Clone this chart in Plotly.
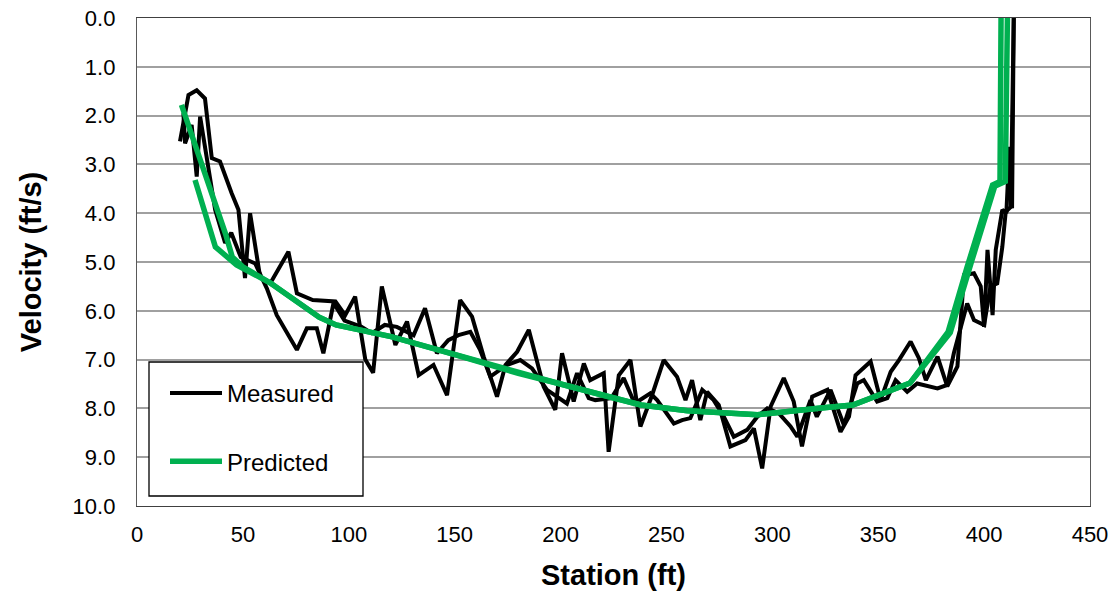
import plotly.graph_objects as go

# Measured velocity, pass 1 (station ft, velocity ft/s)
m1_station = [20.3, 24.3, 28.2, 32.1, 35.3, 39.2, 44.7, 47.9, 51.0, 53.4, 58.1, 62.9, 71.5, 75.5, 83.0,
              89.6, 93.7, 98.3, 103.0, 107.8, 111.5, 115.6, 122.0, 127.5, 133.0, 140.0, 146.4, 152.6,
              158.2, 163.7, 170.0, 174.0, 179.5, 185.0, 192.0, 197.5, 200.7, 206.2, 211.0, 214.0,
              220.4, 222.7, 227.5, 233.0, 237.7, 243.2, 248.7, 255.0, 259.0, 262.1, 266.0, 269.2,
              274.7, 280.2, 287.3, 291.3, 295.2, 299.2, 305.4, 310.1, 314.0, 318.8, 326.0, 332.2,
              336.2, 339.3, 346.4, 351.1, 355.9, 359.8, 365.3, 369.2, 372.5, 378.0, 382.6, 387.4,
              390.5, 395.2, 398.4, 400.0, 401.6, 404.0, 405.5, 408.6, 410.5, 412.0, 413.2, 414.0]
m1_velocity = [2.53, 1.58, 1.48, 1.65, 2.87, 2.94, 3.59, 3.93, 5.33, 4.00, 5.30, 5.44, 4.79, 5.64, 5.78,
               5.81, 5.81, 6.09, 5.71, 7.00, 7.27, 5.50, 6.70, 6.22, 7.32, 7.11, 7.73, 5.78,
               6.12, 6.94, 7.76, 7.11, 6.84, 6.39, 7.55, 8.03, 6.87, 7.86, 7.08, 7.42,
               7.28, 8.89, 7.32, 7.01, 8.37, 7.73, 7.01, 7.35, 7.83, 7.42, 8.24, 7.66,
               7.93, 8.78, 8.65, 8.41, 9.23, 7.96, 7.38, 7.86, 8.78, 7.76, 7.62, 8.48,
               8.17, 7.32, 7.04, 7.83, 7.25, 7.01, 6.63, 6.97, 7.42, 6.94, 7.55, 7.14,
               5.27, 5.23, 5.50, 6.33, 4.75, 6.09, 4.75, 3.93, 4.00, 2.64, 3.90, 0.00]

# Measured velocity, pass 2
m2_station = [21.9, 22.7, 25.8, 28.2, 29.8, 33.7, 36.9, 41.6, 44.5, 49.0, 55.8, 61.3, 66.0, 75.5, 80.2,
              84.9, 88.0, 92.8, 98.0, 106.0, 110.9, 117.0, 122.7, 130.6, 136.0, 141.6, 147.0, 151.8,
              157.4, 162.0, 166.8, 174.7, 181.0, 186.5, 193.6, 203.0, 207.8, 213.3, 216.4, 224.0,
              229.8, 235.0, 242.4, 245.6, 253.5, 257.4, 261.3, 266.9, 272.3, 277.1, 281.8, 288.1,
              292.9, 297.6, 303.0, 308.6, 311.8, 318.0, 321.0, 327.5, 333.8, 340.1, 343.2, 349.5,
              354.3, 358.2, 363.7, 368.4, 373.2, 378.0, 382.6, 385.7, 392.0, 395.2, 400.0, 403.0,
              406.2, 408.6, 410.2, 412.6, 414.0]
m2_velocity = [1.95, 2.57, 2.19, 3.25, 2.02, 3.05, 3.93, 4.61, 4.40, 4.90, 5.03, 5.54, 6.09, 6.80, 6.36,
               6.36, 6.87, 5.84, 6.20, 6.33, 6.46, 6.29, 6.33, 6.50, 5.95, 6.87, 6.60, 6.50,
               6.43, 6.80, 7.35, 7.11, 7.01, 7.18, 7.62, 7.90, 7.28, 7.79, 7.83, 7.79,
               7.38, 7.90, 7.69, 7.83, 8.31, 8.24, 8.20, 7.62, 7.83, 8.17, 8.58, 8.44,
               8.17, 8.00, 8.10, 8.37, 8.58, 7.83, 8.17, 7.62, 8.34, 7.49, 7.42, 7.86,
               7.79, 7.42, 7.66, 7.49, 7.55, 7.59, 7.52, 6.87, 5.85, 6.19, 6.29, 5.50,
               5.44, 4.69, 3.97, 3.87, 0.00]

# Predicted velocity, pass 1
p1_station = [21.0, 30.0, 38.0, 42.0, 45.0, 50.0, 63.0, 86.0, 94.0, 120.0, 150.0, 180.0, 200.0, 220.0,
              238.0, 260.0, 293.0, 323.0, 338.0, 365.0, 383.0, 392.0, 404.0, 407.5, 408.0]
p1_velocity = [1.78, 2.90, 3.90, 4.45, 4.90, 5.10, 5.43, 6.13, 6.29, 6.53, 6.90, 7.28, 7.50, 7.73,
               7.93, 8.05, 8.13, 7.99, 7.93, 7.48, 6.43, 5.10, 3.42, 3.35, 0.00]

# Predicted velocity, pass 2
p2_station = [27.4, 32.0, 37.0, 47.0, 63.0, 86.0, 94.0, 120.0, 150.0, 180.0, 200.0, 220.0,
              238.0, 260.0, 293.0, 323.0, 338.0, 365.0, 384.0, 394.0, 405.0, 410.0, 411.0]
p2_velocity = [3.32, 4.00, 4.69, 5.06, 5.43, 6.13, 6.29, 6.53, 6.90, 7.28, 7.50, 7.73,
               7.93, 8.05, 8.13, 7.99, 7.93, 7.48, 6.45, 5.00, 3.45, 3.35, 0.00]

x_ticks = [0, 50, 100, 150, 200, 250, 300, 350, 400, 450]
y_ticks = [0, 1, 2, 3, 4, 5, 6, 7, 8, 9, 10]
y_tick_labels = ["0.0", "1.0", "2.0", "3.0", "4.0", "5.0", "6.0", "7.0", "8.0", "9.0", "10.0"]

BLACK = "#000000"
GREEN = "#00B050"
FONT = "Liberation Sans, Arial, sans-serif"

W, H = 1111, 591
ML, MR, MT, MB = 137, 21, 18, 85
PW, PH = W - ML - MR, H - MT - MB


def px_x(p):
    return (p - ML) / PW


def px_y(p):
    return (H - MB - p) / PH


fig = go.Figure()
fig.add_trace(go.Scatter(x=m1_station, y=m1_velocity, mode="lines", name="Measured",
                         line=dict(color=BLACK, width=4), legendgroup="m"))
fig.add_trace(go.Scatter(x=m2_station, y=m2_velocity, mode="lines", name="Measured",
                         line=dict(color=BLACK, width=4), legendgroup="m", showlegend=False))
fig.add_trace(go.Scatter(x=p1_station, y=p1_velocity, mode="lines", name="Predicted",
                         line=dict(color=GREEN, width=5.5), legendgroup="p"))
fig.add_trace(go.Scatter(x=p2_station, y=p2_velocity, mode="lines", name="Predicted",
                         line=dict(color=GREEN, width=5.5), legendgroup="p", showlegend=False))

# legend frame
fig.add_shape(type="rect", xref="paper", yref="paper",
              x0=px_x(149), x1=px_x(363), y0=px_y(496), y1=px_y(362),
              line=dict(color="black", width=1.3), fillcolor="white", layer="above")

fig.update_layout(
    width=W, height=H,
    margin=dict(l=ML, r=MR, t=MT, b=MB),
    paper_bgcolor="white", plot_bgcolor="white",
    font=dict(family=FONT, color="black", size=22),
    showlegend=True,
    legend=dict(x=px_x(165), y=px_y(371), xanchor="left", yanchor="top",
                bgcolor="rgba(0,0,0,0)", borderwidth=0,
                font=dict(size=24, family=FONT), tracegroupgap=34,
                traceorder="grouped", itemwidth=52),
    xaxis=dict(range=[0, 450], tickmode="array", tickvals=x_ticks, automargin=False,
               showgrid=False, zeroline=False,
               showline=True, linecolor="#404040", linewidth=1.3, mirror=True,
               ticks="outside", ticklen=8, tickcolor="rgba(0,0,0,0)",
               tickfont=dict(size=22, family=FONT),
               title=dict(text="<b>Station (ft)</b>", font=dict(size=29, family=FONT), standoff=22)),
    yaxis=dict(range=[10, 0], tickmode="array", tickvals=y_ticks, ticktext=y_tick_labels,
               automargin=False,
               showgrid=True, gridcolor="#A0A0A0", gridwidth=1.5, zeroline=False,
               showline=True, linecolor="#595959", linewidth=1.3, mirror=True,
               ticks="outside", ticklen=16, tickcolor="rgba(0,0,0,0)",
               tickfont=dict(size=22, family=FONT),
               title=dict(text="<b>Velocity (ft/s)</b>", font=dict(size=29, family=FONT), standoff=22)),
)

fig.write_html("out.html")
